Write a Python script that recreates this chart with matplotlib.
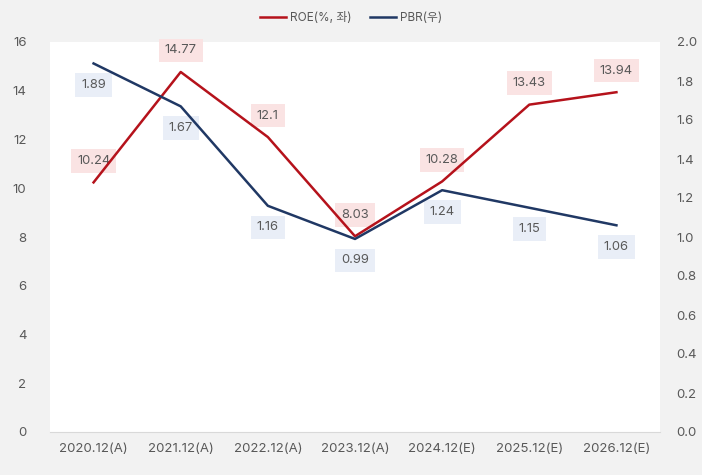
import matplotlib
matplotlib.use("Agg")
import matplotlib.pyplot as plt

plt.rcParams['font.family'] = ['Inter', 'Noto Sans CJK KR', 'DejaVu Sans']

categories = ['2020.12(A)', '2021.12(A)', '2022.12(A)', '2023.12(A)',
              '2024.12(E)', '2025.12(E)', '2026.12(E)']
roe = [10.24, 14.77, 12.1, 8.03, 10.28, 13.43, 13.94]
pbr = [1.89, 1.67, 1.16, 0.99, 1.24, 1.15, 1.06]
roe_labels = ['10.24', '14.77', '12.1', '8.03', '10.28', '13.43', '13.94']
pbr_labels = ['1.89', '1.67', '1.16', '0.99', '1.24', '1.15', '1.06']

red = '#b5121b'
navy = '#203864'
txt = '#595959'

fig = plt.figure(figsize=(7.02, 4.75), dpi=100)
fig.patch.set_facecolor('#f2f2f2')
ax = fig.add_axes([50/702, 1-432/475, 610/702, 390/475])
ax.set_facecolor('white')
ax2 = ax.twinx()

x = list(range(len(categories)))
l1, = ax.plot(x, roe, color=red, lw=1.8, label='ROE(%, 좌)', zorder=3)
l2, = ax2.plot(x, pbr, color=navy, lw=1.8, label='PBR(우)', zorder=3)

ax.set_xlim(-0.5, 6.5)
ax.set_ylim(0, 16)
ax2.set_ylim(0, 2.0)
ax.set_yticks(range(0, 17, 2))
ax2.set_yticks([i/10 for i in range(0, 21, 2)])
ax2.set_yticklabels([f'{i/10:.1f}' for i in range(0, 21, 2)])
ax.set_xticks(x)
ax.set_xticklabels(categories)

for a in (ax, ax2):
    for s in a.spines.values():
        s.set_visible(False)
    a.tick_params(length=0, labelsize=9.5, colors=txt)
ax.spines['bottom'].set_visible(True)
ax.spines['bottom'].set_color('#d9d9d9')
ax.tick_params(axis='y', pad=17)
ax2.tick_params(axis='y', pad=12)
ax.tick_params(axis='x', pad=8)

for xi, v, s in zip(x, roe, roe_labels):
    ax.annotate(s, (xi, v), xytext=(0, 15.5), textcoords='offset points',
                ha='center', va='center', fontsize=9.3, color=txt, zorder=2,
                bbox=dict(boxstyle='square,pad=0.45', fc='#fae3e3', ec='none'))
for xi, v, s in zip(x, pbr, pbr_labels):
    ax2.annotate(s, (xi, v), xytext=(0, -15.5), textcoords='offset points',
                 ha='center', va='center', fontsize=9.3, color=txt, zorder=2,
                 bbox=dict(boxstyle='square,pad=0.45', fc='#e9eef7', ec='none'))

fig.legend(handles=[l1, l2], loc='center', bbox_to_anchor=(0.5, 1 - 18/475),
           ncol=2, frameon=False, fontsize=8.5, labelcolor=txt,
           handlelength=2.2, columnspacing=1.6, handletextpad=0.3)

fig.savefig('out.png', dpi=100, facecolor=fig.get_facecolor())
